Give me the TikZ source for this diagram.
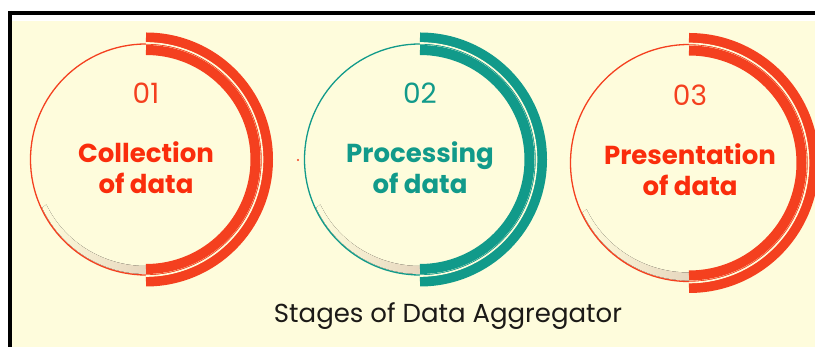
\documentclass[tikz,border=0pt]{standalone}
\usepackage{fontspec}
\setmainfont{Poppins}
\usetikzlibrary{positioning}

\definecolor{cream}{HTML}{FEFCDC}
\definecolor{flame}{HTML}{F4401F}
\definecolor{flametext}{HTML}{FA2D0C}
\definecolor{tealband}{HTML}{119A8A}
\definecolor{shadowtan}{HTML}{E6D6BE}
\definecolor{inkdark}{HTML}{1C1A17}

\tikzset{
  ring/.style={line width=1.3pt},
  outerband/.style={line width=10pt},
  innerband/.style={line width=10pt},
  gapline/.style={cream, line width=1.6pt},
  numlabel/.style={font=\fontsize{28}{28}\selectfont, inner sep=0pt},
  stagelabel/.style={font=\fontsize{26}{31}\selectfont\bfseries, align=center, inner sep=0pt},
  titlelabel/.style={font=\fontsize{26}{26}\selectfont, text=inkdark, inner sep=0pt},
  soft/.style={left color=cream, right color=shadowtan, draw=none}
}

\begin{document}
\begin{tikzpicture}[x=1pt,y=1pt]
\useasboundingbox (0,0) rectangle (815,347);
\fill[white] (0,0) rectangle (815,347);
\fill[cream] (12,0) rectangle (815,326);

\draw[line width=4pt] (8,334) -- (815,334);
\draw[line width=4pt] (10,336) -- (10,0);

% first stage
\coordinate (c1) at (146,187.5);
\fill[soft] ([shift={(205:114.5)}]c1) arc[start angle=205, end angle=270, radius=114.5]
  -- ++(0,8) arc[start angle=270, end angle=205, x radius=110, y radius=106.5] -- cycle;
\draw[ring, flame] (c1) circle (115.5);
\draw[innerband, flame] ([shift={(90:109.5)}]c1) arc[start angle=90, end angle=-90, radius=109.5];
\draw[outerband, flame] ([shift={(90:122)}]c1) arc[start angle=90, end angle=-90, radius=122];
\draw[gapline] ([shift={(90:116.5)}]c1) arc[start angle=90, end angle=-90, radius=116.5];
\node[stagelabel, text=flametext] (stage1) at (146,179.5) {Collection\\of data};
\node[numlabel, text=flame, above=38pt of stage1] (num1) {01};

\fill[flame] (298,187) circle (1.2);

% second stage
\coordinate (c2) at (420,187.5);
\fill[soft] ([shift={(205:114.5)}]c2) arc[start angle=205, end angle=270, radius=114.5]
  -- ++(0,8) arc[start angle=270, end angle=205, x radius=110, y radius=106.5] -- cycle;
\draw[ring, tealband] (c2) circle (115.5);
\draw[innerband, tealband] ([shift={(90:109.5)}]c2) arc[start angle=90, end angle=-90, radius=109.5];
\draw[outerband, tealband] ([shift={(90:122)}]c2) arc[start angle=90, end angle=-90, radius=122];
\draw[gapline] ([shift={(90:116.5)}]c2) arc[start angle=90, end angle=-90, radius=116.5];
\node[stagelabel, text=tealband] (stage2) at (420,179.5) {Processing\\of data};
\node[numlabel, text=tealband, above=38pt of stage2] (num2) {02};

% third stage
\coordinate (c3) at (689,184);
\fill[soft] ([shift={(205:117.5)}]c3) arc[start angle=205, end angle=270, radius=117.5]
  -- ++(0,8) arc[start angle=270, end angle=205, x radius=113, y radius=109.5] -- cycle;
\draw[ring, flame] (c3) circle (118.5);
\draw[innerband, flame] ([shift={(90:112.5)}]c3) arc[start angle=90, end angle=-90, radius=112.5];
\draw[outerband, flame] ([shift={(90:125)}]c3) arc[start angle=90, end angle=-90, radius=125];
\draw[gapline] ([shift={(90:119.5)}]c3) arc[start angle=90, end angle=-90, radius=119.5];
\node[stagelabel, text=flametext] (stage3) at (690,177) {Presentation\\of data};
\node[numlabel, text=flame, above=38pt of stage3] (num3) {03};

\node[titlelabel] (title) at (448,31) {Stages of Data Aggregator};
\end{tikzpicture}
\end{document}
